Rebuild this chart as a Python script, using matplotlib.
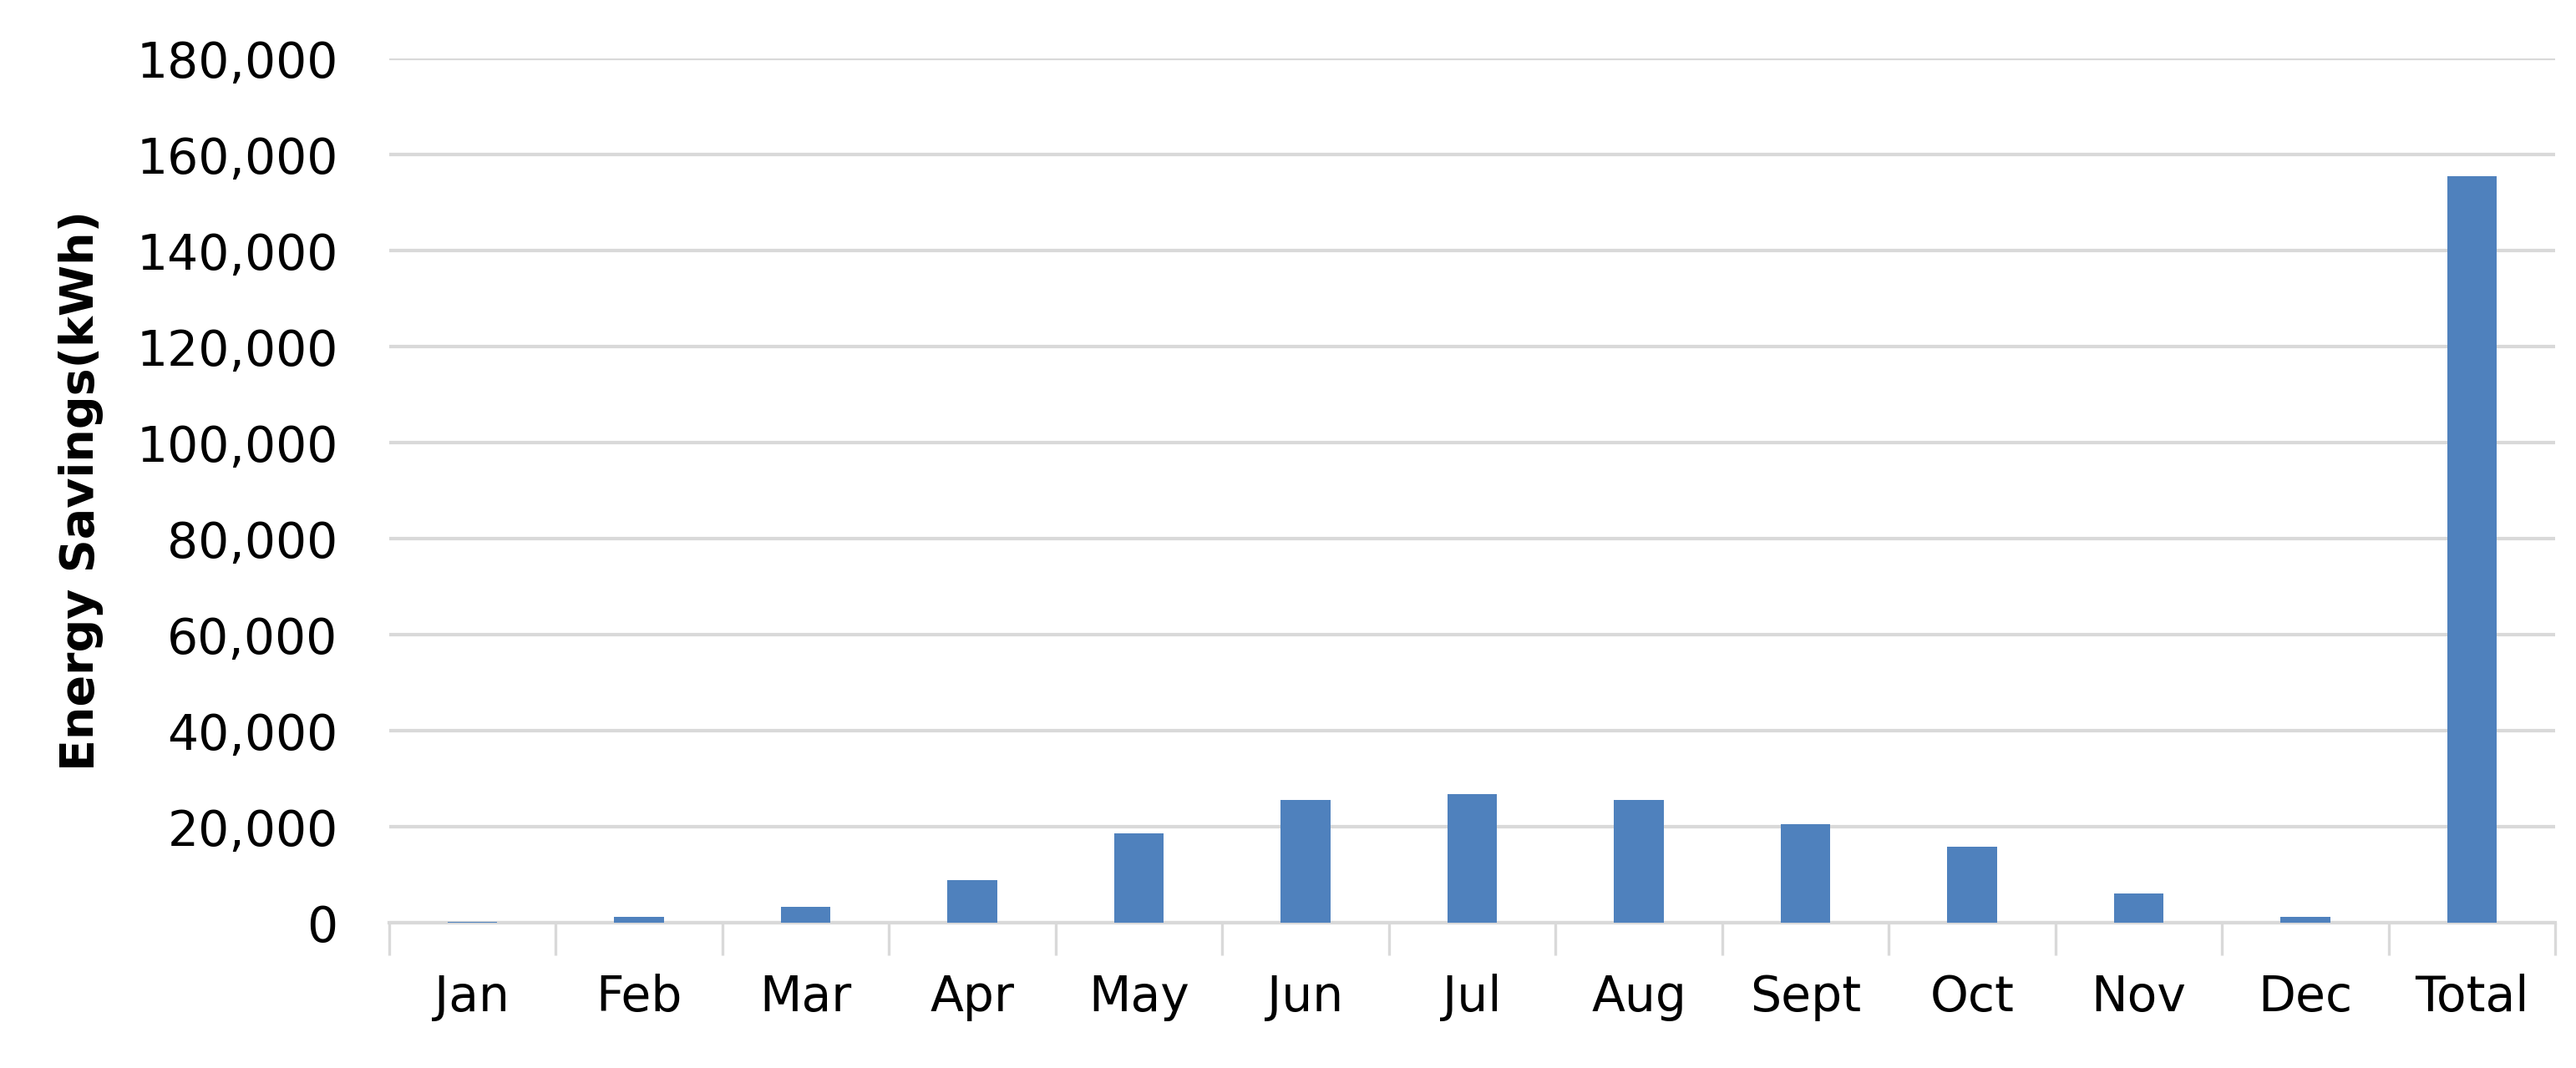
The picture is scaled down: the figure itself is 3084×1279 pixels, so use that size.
import matplotlib.pyplot as plt
import numpy as np
from matplotlib.ticker import FuncFormatter, FixedLocator

months = ["Jan", "Feb", "Mar", "Apr", "May", "Jun", "Jul", "Aug",
          "Sept", "Oct", "Nov", "Dec", "Total"]
savings = [150, 1300, 3400, 8900, 18600, 25500, 26800, 25500,
           20600, 15800, 6100, 1300, 155500]

fig = plt.figure(figsize=(15.42, 6.395), dpi=200)
ax = fig.add_axes([0.151, 0.136, 0.841, 0.809])

x = np.arange(len(months))
ax.bar(x, savings, width=0.3, color="#4f81bd", zorder=3)

ax.set_xlim(-0.5, len(months) - 0.5)
ax.set_ylim(0, 180000)
ax.set_yticks(range(0, 180001, 20000))
ax.yaxis.set_major_formatter(FuncFormatter(lambda v, p: f"{int(v):,}"))
ax.set_xticks(x)
ax.set_xticklabels(months)
ax.xaxis.set_minor_locator(FixedLocator(np.arange(-0.5, len(months), 1.0)))

ax.grid(axis="y", color="#d9d9d9", lw=1.5, zorder=0)
for s in ["top", "right", "left"]:
    ax.spines[s].set_visible(False)
ax.spines["bottom"].set_color("#d9d9d9")
ax.spines["bottom"].set_linewidth(1.5)

ax.tick_params(axis="x", which="major", length=0, pad=22, labelsize=21)
ax.tick_params(axis="x", which="minor", length=14, width=1.2, color="#d9d9d9")
ax.tick_params(axis="y", length=0, pad=22, labelsize=21)

ax.set_ylabel("Energy Savings(kWh)", fontsize=20, fontweight="bold",
              family=["Liberation Sans Narrow", "DejaVu Sans"], labelpad=14)

fig.savefig("out.png")
